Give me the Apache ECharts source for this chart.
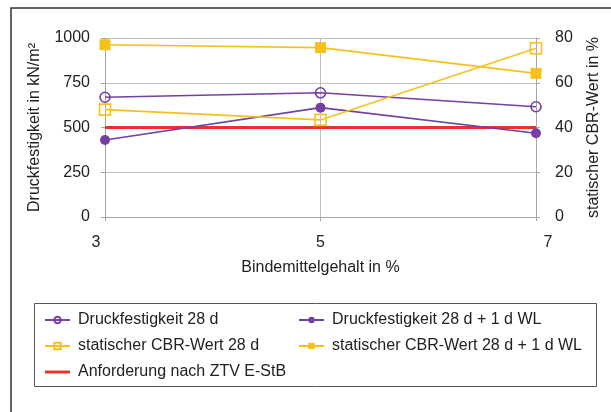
<!DOCTYPE html>
<html>
<head>
<meta charset="utf-8">
<script src="https://cdn.jsdelivr.net/npm/echarts@6/dist/echarts.min.js"></script>
<style>
  html, body { margin: 0; padding: 0; background: #fff; }
  #chart { width: 611px; height: 412px; }
</style>
</head>
<body>
<div id="chart"></div>
<script>
// Bindemittelgehalt (x values)
const binder = [3, 5, 7];
const xTicks = [3, 5, 7];

// Druckfestigkeit in kN/m² (left axis)
const druck28 = [669, 694, 616];
const druck28WL = [430, 611, 468];

// statischer CBR-Wert in % (right axis)
const cbr28 = [48, 43.4, 75.4];
const cbr28WL = [77, 75.7, 64.2];

// Anforderung nach ZTV E-StB (kN/m²)
const anforderung = 500;

const leftTicks = [0, 250, 500, 750, 1000];
const rightTicks = [0, 20, 40, 60, 80];

const PURPLE = '#7440a3';
const YELLOW = '#f7c11b';
const RED = '#ee3124';
const FONT = 'Liberation Sans, Arial, sans-serif';
const TXT = '#222';

const pairs = (xs, ys) => xs.map((x, i) => [x, ys[i]]);

const names = {
  d28: 'Druckfestigkeit 28 d',
  d28wl: 'Druckfestigkeit 28 d + 1 d WL',
  c28: 'statischer CBR-Wert 28 d',
  c28wl: 'statischer CBR-Wert 28 d + 1 d WL',
  req: 'Anforderung nach ZTV E-StB'
};

const chart = echarts.init(document.getElementById('chart'), null, { renderer: 'canvas' });

const axisLineStyle = { color: '#a6a6a6', width: 1 };
const legendText = { fontSize: 16, color: TXT, fontFamily: FONT, padding: [0, 0, 0, 3] };

chart.setOption({
  animation: false,
  textStyle: { fontFamily: FONT, color: TXT },
  graphic: [
    { type: 'rect', shape: { x: 11, y: 8, width: 700, height: 500 },
      style: { fill: 'none', stroke: '#333', lineWidth: 1.5 }, z: 0 },
    { type: 'rect', shape: { x: 34.5, y: 303.5, width: 562, height: 83 },
      style: { fill: 'none', stroke: '#555', lineWidth: 1 }, z: 0 }
  ],
  grid: { left: 105, top: 38, right: 75, bottom: 195, containLabel: false },
  xAxis: {
    type: 'value',
    min: xTicks[0],
    max: xTicks[xTicks.length - 1],
    interval: 2,
    name: 'Bindemittelgehalt in %',
    nameLocation: 'middle',
    nameGap: 43,
    nameTextStyle: { fontSize: 16, color: TXT, fontFamily: FONT },
    axisLine: { show: true, lineStyle: axisLineStyle },
    axisTick: { show: true, length: 4, lineStyle: axisLineStyle },
    splitLine: { show: true, lineStyle: { color: '#bfbfbf', width: 1 } },
    axisLabel: {
      fontSize: 16, color: TXT, fontFamily: FONT, margin: 18,
      formatter: v => v === xTicks[0] ? '{l|' + v + '}' : (v === xTicks[xTicks.length - 1] ? '{r|' + v + '}' : String(v)),
      rich: {
        l: { fontSize: 16, color: TXT, fontFamily: FONT, padding: [0, 18, 0, 0] },
        r: { fontSize: 16, color: TXT, fontFamily: FONT, padding: [0, 0, 0, 24] }
      }
    }
  },
  yAxis: [
    {
      type: 'value',
      min: leftTicks[0],
      max: leftTicks[leftTicks.length - 1],
      interval: 250,
      position: 'left',
      name: 'Druckfestigkeit in kN/m²',
      nameLocation: 'middle',
      nameGap: 62,
      nameRotate: 90,
      nameTextStyle: { fontSize: 16, color: TXT, fontFamily: FONT },
      axisLine: { show: true, lineStyle: axisLineStyle },
      axisTick: { show: true, length: 4, lineStyle: axisLineStyle },
      splitLine: { show: true, lineStyle: { color: '#bfbfbf', width: 1 } },
      axisLabel: { fontSize: 16, color: TXT, fontFamily: FONT, margin: 15, formatter: v => String(v) }
    },
    {
      type: 'value',
      min: rightTicks[0],
      max: rightTicks[rightTicks.length - 1],
      interval: 20,
      position: 'right',
      name: 'statischer CBR-Wert in %',
      nameLocation: 'middle',
      nameGap: 50,
      nameRotate: 90,
      nameTextStyle: { fontSize: 16, color: TXT, fontFamily: FONT },
      axisLine: { show: true, lineStyle: axisLineStyle },
      axisTick: { show: true, length: 4, lineStyle: axisLineStyle },
      splitLine: { show: false },
      axisLabel: { fontSize: 16, color: TXT, fontFamily: FONT, margin: 19, formatter: v => String(v) }
    }
  ],
  legend: [
    {
      orient: 'vertical',
      left: 39, top: 307,
      itemWidth: 25, itemHeight: 8, itemGap: 10,
      textStyle: legendText,
      data: [
        names.d28,
        names.c28,
        { name: names.req, icon: 'path://M0,0H26V3H0Z' }
      ]
    },
    {
      orient: 'vertical',
      left: 293, top: 307,
      itemWidth: 25, itemHeight: 8, itemGap: 10,
      textStyle: legendText,
      data: [names.d28wl, names.c28wl]
    }
  ],
  series: [
    {
      name: names.req, type: 'line', yAxisIndex: 0,
      data: [[xTicks[0], anforderung], [xTicks[xTicks.length - 1], anforderung]],
      showSymbol: false, symbol: 'none',
      lineStyle: { color: RED, width: 3 }, itemStyle: { color: RED }, z: 2
    },
    {
      name: names.d28, type: 'line', yAxisIndex: 0,
      data: pairs(binder, druck28),
      symbol: 'circle', symbolSize: 10,
      lineStyle: { color: PURPLE, width: 1.6 },
      itemStyle: { color: 'rgba(255,255,255,0)', borderColor: PURPLE, borderWidth: 1.6 }, z: 3
    },
    {
      name: names.d28wl, type: 'line', yAxisIndex: 0,
      data: pairs(binder, druck28WL),
      symbol: 'circle', symbolSize: 10,
      lineStyle: { color: PURPLE, width: 1.6 },
      itemStyle: { color: PURPLE, borderColor: PURPLE, borderWidth: 0 }, z: 3
    },
    {
      name: names.c28, type: 'line', yAxisIndex: 1,
      data: pairs(binder, cbr28),
      symbol: 'rect', symbolSize: 11,
      lineStyle: { color: YELLOW, width: 1.6 },
      itemStyle: { color: 'rgba(255,255,255,0)', borderColor: YELLOW, borderWidth: 1.6 }, z: 3
    },
    {
      name: names.c28wl, type: 'line', yAxisIndex: 1,
      data: pairs(binder, cbr28WL),
      symbol: 'rect', symbolSize: 11,
      lineStyle: { color: YELLOW, width: 1.6 },
      itemStyle: { color: YELLOW, borderColor: YELLOW, borderWidth: 0 }, z: 3
    }
  ]
});
</script>
</body>
</html>
